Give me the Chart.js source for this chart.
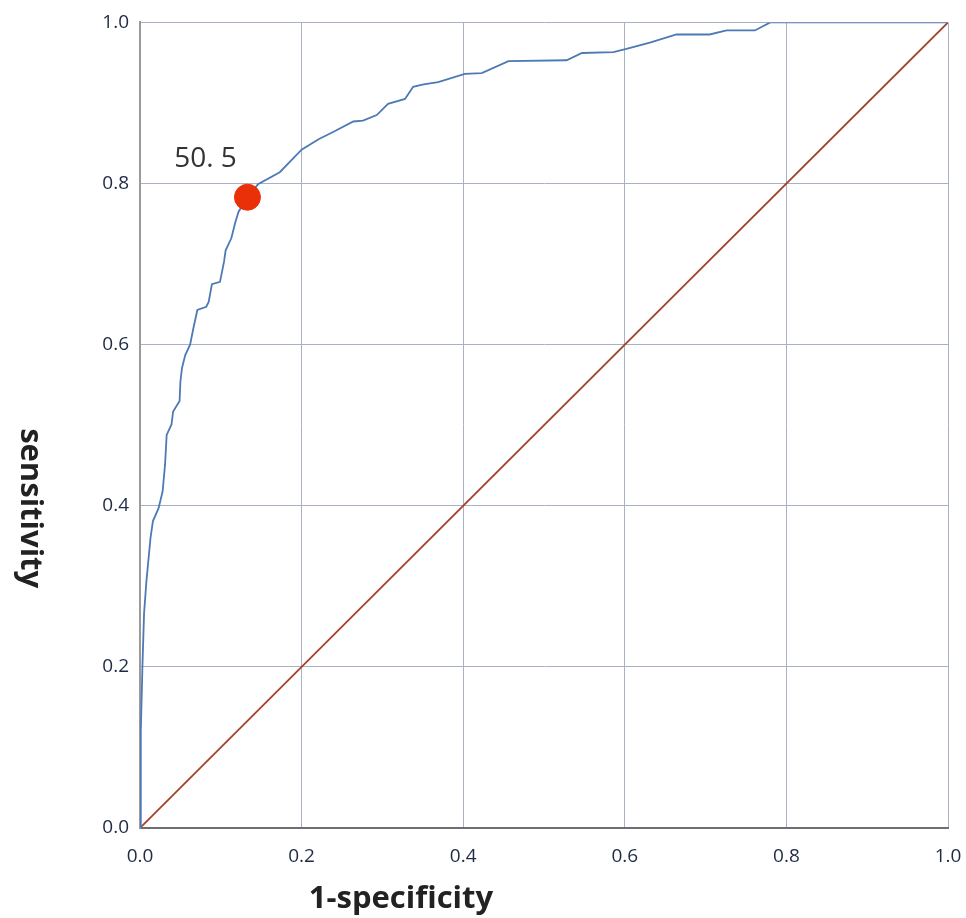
<!DOCTYPE html>
<html>
<head>
<meta charset="utf-8">
<script src="https://cdn.jsdelivr.net/npm/chart.js@4.4.1/dist/chart.umd.min.js"></script>
<style>
  html, body { margin: 0; padding: 0; background: #fff; }
  #wrap { width: 966px; height: 918px; position: relative; }
</style>
</head>
<body>
<div id="wrap"><canvas id="roc-chart"></canvas></div>
<script>
'use strict';

// ******DATA******
let fpr = [0, 0.001, 0.003, 0.005, 0.008, 0.013, 0.016, 0.023, 0.028, 0.031,
  0.033, 0.039, 0.041, 0.049, 0.050, 0.052, 0.056, 0.062, 0.066, 0.071,
  0.082, 0.085, 0.089, 0.099, 0.104, 0.106, 0.113, 0.118, 0.122, 0.133,
  0.146, 0.173, 0.200, 0.221, 0.239, 0.264, 0.276, 0.293, 0.307, 0.328,
  0.338, 0.351, 0.369, 0.402, 0.423, 0.456, 0.528, 0.547, 0.586, 0.602,
  0.631, 0.664, 0.705, 0.726, 0.761, 0.780, 1.0];
let tpr = [0, 0.12, 0.20, 0.266, 0.307, 0.360, 0.381, 0.397, 0.418, 0.451,
  0.488, 0.501, 0.517, 0.530, 0.554, 0.571, 0.587, 0.600, 0.620, 0.643,
  0.647, 0.653, 0.675, 0.678, 0.703, 0.717, 0.732, 0.752, 0.765, 0.783,
  0.799, 0.814, 0.842, 0.855, 0.864, 0.877, 0.878, 0.885, 0.899, 0.905,
  0.920, 0.923, 0.926, 0.936, 0.937, 0.952, 0.953, 0.962, 0.963, 0.967,
  0.975, 0.985, 0.985, 0.990, 0.990, 1.0, 1.0];

let refX = [0, 1];
let refY = [0, 1];

let cutX = [0.133];
let cutY = [0.783];
let cutLabel = ['50. 5'];

let tickValues = [0, 0.2, 0.4, 0.6, 0.8, 1.0];
let xTitle = '1-specificity';
let yTitle = 'sensitivity';

// ******HELPERS******
function toPoints(xs, ys) {
  let pts = [];
  for (let i = 0; i < xs.length; i++) {
    pts.push({ x: xs[i], y: ys[i] });
  }
  return pts;
}

// draws the cutoff label and both axis titles
let textPlugin = {
  id: 'rocText',
  afterDatasetsDraw(chart) {
    let ctx = chart.ctx;
    let xs = chart.scales.x;
    let ys = chart.scales.y;
    ctx.save();
    ctx.fillStyle = '#333333';
    ctx.font = '28px "Open Sans", "DejaVu Sans", sans-serif';
    ctx.textAlign = 'center';
    ctx.textBaseline = 'middle';
    for (let i = 0; i < cutX.length; i++) {
      ctx.fillText(cutLabel[i], xs.getPixelForValue(cutX[i]) - 42, ys.getPixelForValue(cutY[i]) - 38);
    }

    ctx.fillStyle = '#222222';
    ctx.font = 'bold 31px "Open Sans", "DejaVu Sans", sans-serif';
    ctx.fillText(xTitle, xs.getPixelForValue(0.323), 899);

    ctx.translate(30, ys.getPixelForValue(0.397));
    ctx.rotate(Math.PI / 2);
    ctx.fillText(yTitle, 0, 0);
    ctx.restore();
  }
};

let canvasElem = document.getElementById('roc-chart').getContext('2d');

let tickFont = { family: '"Open Sans", "DejaVu Sans", sans-serif', size: 19 };

let myChartObj = {
  type: 'scatter',
  data: {
    datasets: [{
      data: toPoints(cutX, cutY),
      backgroundColor: '#ea3008',
      borderColor: '#ea3008',
      pointRadius: 13,
      pointHoverRadius: 13,
      showLine: false
    },
    {
      data: toPoints(fpr, tpr),
      borderColor: '#4d79b4',
      borderWidth: 1.8,
      pointRadius: 0,
      showLine: true,
      tension: 0
    },
    {
      data: toPoints(refX, refY),
      borderColor: '#a4432c',
      borderWidth: 1.8,
      pointRadius: 0,
      showLine: true
    }]
  },
  options: {
    responsive: true,
    maintainAspectRatio: false,
    animation: false,
    layout: { padding: { top: 20, right: 18, left: 0, bottom: 0 } },
    plugins: {
      legend: { display: false },
      tooltip: { enabled: false }
    },
    scales: {
      x: {
        type: 'linear',
        min: 0,
        max: 1,
        afterFit(scale) {
          scale.height = 90;
          scale.paddingLeft = 0;
          scale.paddingRight = 0;
        },
        afterBuildTicks(scale) { scale.ticks = tickValues.map(v => ({ value: v })); },
        ticks: {
          font: tickFont,
          color: '#1f2a44',
          padding: 17,
          callback: v => v.toFixed(1)
        },
        grid: { color: '#aab1c4', lineWidth: 1, drawTicks: false },
        border: { color: '#6e6e6e', width: 2 }
      },
      y: {
        type: 'linear',
        min: 0,
        max: 1,
        afterFit(scale) { scale.width = 140; },
        afterBuildTicks(scale) { scale.ticks = tickValues.map(v => ({ value: v })); },
        ticks: {
          font: tickFont,
          color: '#1f2a44',
          padding: 11,
          callback: v => v.toFixed(1)
        },
        grid: { color: '#aab1c4', lineWidth: 1, drawTicks: false },
        border: { color: '#9a9a9a', width: 2 }
      }
    }
  },
  plugins: [textPlugin]
};

new Chart(canvasElem, myChartObj);
</script>
</body>
</html>
